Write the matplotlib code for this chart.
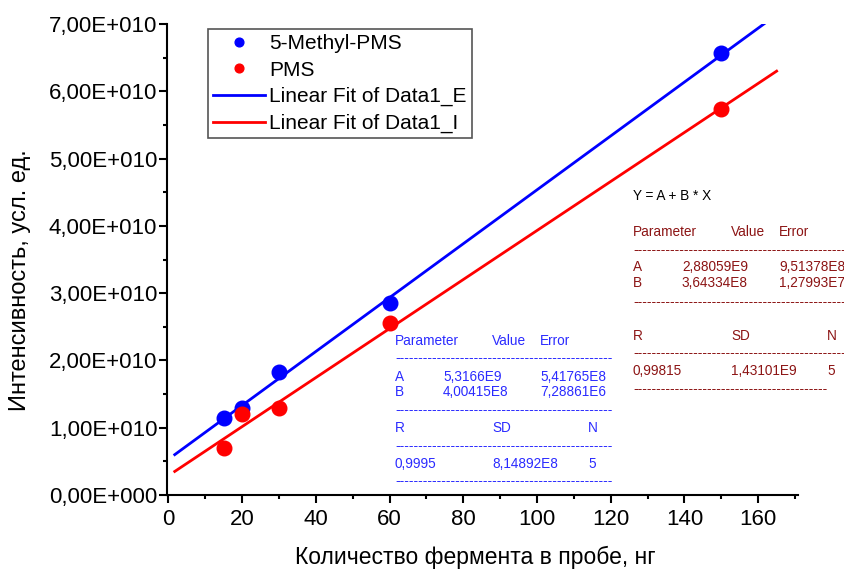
import matplotlib
matplotlib.use("Agg")
import matplotlib.pyplot as plt
import numpy as np
from matplotlib.ticker import MultipleLocator

plt.rcParams['font.family'] = ['Liberation Sans', 'DejaVu Sans']

# Измерения: количество фермента (нг) и интенсивность
x_data = [15, 20, 30, 60, 150]
y_methyl = [1.15e10, 1.30e10, 1.83e10, 2.85e10, 6.57e10]
y_pms = [0.70e10, 1.20e10, 1.30e10, 2.55e10, 5.73e10]

# Параметры линейной аппроксимации Y = A + B * X
fit_methyl = {"A": 5.3166e9, "B": 4.00415e8}
fit_pms = {"A": 2.88059e9, "B": 3.64334e8}
fit_range = [1.7, 165]

y_ticks = [0, 1e10, 2e10, 3e10, 4e10, 5e10, 6e10, 7e10]
y_tick_labels = ["0,00E+000", "1,00E+010", "2,00E+010", "3,00E+010",
                 "4,00E+010", "5,00E+010", "6,00E+010", "7,00E+010"]

# Таблицы результатов аппроксимации
table_methyl = {
    "head": ["Parameter", "Value", "Error"],
    "A": ["A", "5,3166E9", "5,41765E8"],
    "B": ["B", "4,00415E8", "7,28861E6"],
    "stat_head": ["R", "SD", "N"],
    "stat": ["0,9995", "8,14892E8", "5"],
}
table_pms = {
    "head": ["Parameter", "Value", "Error"],
    "A": ["A", "2,88059E9", "9,51378E8"],
    "B": ["B", "3,64334E8", "1,27993E7"],
    "stat_head": ["R", "SD", "N"],
    "stat": ["0,99815", "1,43101E9", "5"],
}

W, H = 845, 571
fig = plt.figure(figsize=(W / 100, H / 100), dpi=100)
ax = fig.add_axes([167 / W, 1 - 495 / H, (798 - 167) / W, (495 - 24) / H])

ax.plot(x_data, y_methyl, 'o', color='#0000ff', ms=10.5, label='5-Methyl-PMS', zorder=3)
ax.plot(x_data, y_pms, 'o', color='#ff0000', ms=10.5, label='PMS', zorder=3)

xf = np.array(fit_range)
ax.plot(xf, fit_methyl["A"] + fit_methyl["B"] * xf, color='#0000ff', lw=2,
        label='Linear Fit of Data1_E')
ax.plot(xf, fit_pms["A"] + fit_pms["B"] * xf, color='#ff0000', lw=2,
        label='Linear Fit of Data1_I')

ax.set_xlim(-0.4, 170.8)
ax.set_ylim(0, 7e10)
ax.xaxis.set_major_locator(MultipleLocator(20))
ax.xaxis.set_minor_locator(MultipleLocator(10))
ax.set_yticks(y_ticks)
ax.set_yticklabels(y_tick_labels)
ax.yaxis.set_minor_locator(MultipleLocator(0.5e10))

for s in ['top', 'right']:
    ax.spines[s].set_visible(False)
for s in ['left', 'bottom']:
    ax.spines[s].set_linewidth(1.5)
ax.tick_params(which='major', direction='out', length=6, width=1.5, labelsize=16)
ax.tick_params(which='minor', direction='out', length=3, width=1.5)
ax.tick_params(axis='y', which='major', pad=1)
ax.tick_params(axis='x', which='major', pad=4)

fig.text(20 / W, 1 - 280 / H, 'Интенсивность, усл. ед.', rotation=90,
         ha='center', va='center', fontsize=17)
fig.text(475 / W, 1 - 557 / H, 'Количество фермента в пробе, нг',
         ha='center', va='center', fontsize=16.5)

leg = ax.legend(loc='upper left', bbox_to_anchor=(208 / W, 1 - 29 / H),
                bbox_transform=fig.transFigure, borderaxespad=0, fontsize=15,
                fancybox=False, edgecolor='#555555', framealpha=1,
                handlelength=2.5, handletextpad=0.2, labelspacing=0.36,
                borderpad=0.25, markerscale=0.6)
leg.get_frame().set_linewidth(1.2)


def put(x, y, s, color):
    fig.text(x / W, 1 - y / H, s, ha='left', va='center', fontsize=9.8, color=color)


def draw_table(tab, x0, cols, rows, dash_rows, dash_counts, color):
    c1, c2, c3, c4 = cols
    put(x0, rows[0], tab["head"][0], color)
    put(c2, rows[0], tab["head"][1], color)
    put(c3, rows[0], tab["head"][2], color)
    for key, y in (("A", rows[1]), ("B", rows[2])):
        put(x0, y, tab[key][0], color)
        put(c1, y, tab[key][1], color)
        put(c3, y, tab[key][2], color)
    put(x0, rows[3], tab["stat_head"][0], color)
    put(c2, rows[3], tab["stat_head"][1], color)
    put(c4, rows[3], tab["stat_head"][2], color)
    put(x0, rows[4], tab["stat"][0], color)
    put(c2, rows[4], tab["stat"][1], color)
    put(c4, rows[4], tab["stat"][2], color)
    for y, n in zip(dash_rows, dash_counts):
        put(x0, y, '-' * n, color)


blue_txt = '#2b2bff'
red_txt = '#8c1414'
draw_table(table_methyl, 395, (443, 492, 540, 588),
           (341, 377, 392, 428, 464), (358, 410, 446, 481), (47, 47, 47, 47), blue_txt)

put(633, 196, 'Y = A + B * X', 'black')
draw_table(table_pms, 633, (682, 731, 779, 827),
           (232, 267, 283, 336, 371), (250, 302, 353, 389), (46, 46, 46, 42), red_txt)

fig.savefig('out.png', dpi=100)
